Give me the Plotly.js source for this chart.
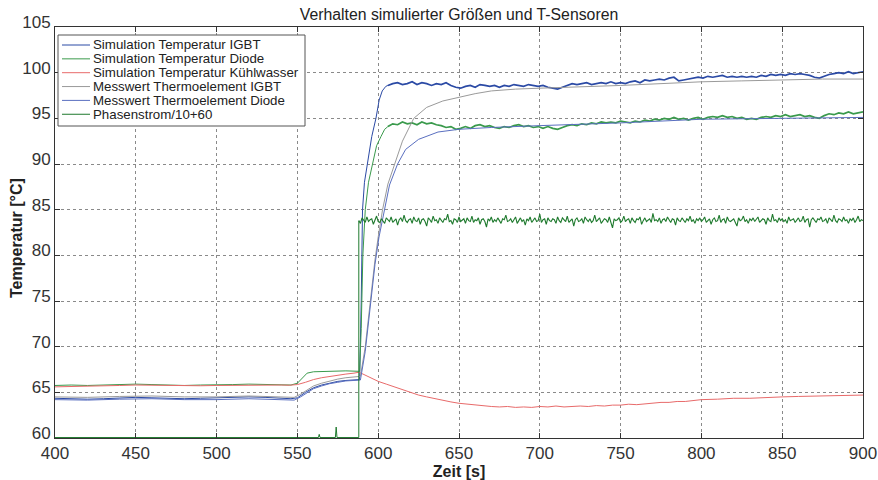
<!DOCTYPE html>
<html><head><meta charset="utf-8">
<script src="https://cdn.plot.ly/plotly-3.0.1.min.js"></script>
<style>html,body{margin:0;padding:0;background:#fff}#chart{width:878px;height:480px}</style>
</head><body><div id="chart"></div>
<script>
// ---------------- DATA ----------------
const seriesNames = [
  'Simulation Temperatur IGBT',
  'Simulation Temperatur Diode',
  'Simulation Temperatur Kühlwasser',
  'Messwert Thermoelement IGBT',
  'Messwert Thermoelement Diode',
  'Phasenstrom/10+60'
];
const chartTitle = 'Verhalten simulierter Größen und T-Sensoren';
const xTitle = 'Zeit [s]';
const yTitle = 'Temperatur [°C]';

// Simulation IGBT: smooth part + noisy plateau (plateau sampled from 606 s every 3 s)
const simIGBT_t = [400,410,420,430,440,450,460,470,480,490,500,510,520,530,540,546,550,555,560,565,570,575,580,585,588.5,589.5,590.3,591.5,593.4,596,598.6,600.6,602.5,604.7,606];
const simIGBT_v = [64.35,64.3,64.25,64.3,64.4,64.45,64.4,64.35,64.3,64.35,64.4,64.45,64.5,64.45,64.35,64.3,64.4,65.0,65.5,65.8,66.0,66.2,66.3,66.4,66.4,75,85,88,90,93,95,97,98,98.5,98.6];
const simIGBT_plateau = [
 98.6,98.8,98.9,98.7,98.8,99.0,98.7,98.9,98.8,98.6,
 98.8,98.7,98.9,98.6,98.4,98.3,98.5,98.6,98.4,98.7,
 98.6,98.5,98.6,98.4,98.6,98.5,98.7,98.6,98.5,98.7,
 98.6,98.5,98.6,98.4,98.3,98.2,98.4,98.6,98.8,98.7,
 98.8,98.9,98.7,98.8,98.9,98.8,99.0,98.8,98.9,98.8,
 99.0,99.1,98.9,99.2,99.1,99.2,99.3,99.2,99.4,99.5,
 99.1,99.2,99.3,99.4,99.5,99.4,99.6,99.5,99.6,99.7,
 99.5,99.6,99.5,99.6,99.5,99.6,99.5,99.7,99.6,99.8,
 99.7,99.8,99.7,99.9,99.8,99.9,99.8,99.7,99.5,99.4,
 99.6,99.8,99.9,100.0,99.9,100.1,99.9,100.0,100.1];

// Simulation Diode
const simDiode_t = [400,410,420,430,440,450,460,470,480,490,500,510,520,530,540,546,550,553,556,560,570,580,588.5,589.5,590.5,592,594,596.5,599,601.7,604,606];
const simDiode_v = [65.75,65.8,65.75,65.8,65.85,65.9,65.85,65.8,65.75,65.8,65.8,65.85,65.9,65.85,65.8,65.8,66.0,66.6,67.1,67.25,67.3,67.35,67.3,72,80,85,88,90,92,93,93.8,94.1];
const simDiode_plateau = [
 94.1,94.4,94.3,94.6,94.4,94.5,94.3,94.6,94.4,94.5,
 94.3,94.2,94.0,94.1,93.8,93.9,94.1,93.9,94.2,94.3,
 94.1,94.2,94.0,93.9,94.1,94.0,94.2,94.3,94.1,94.2,
 94.0,94.1,93.9,94.1,93.9,93.8,94.0,94.2,94.3,94.2,
 94.4,94.3,94.5,94.4,94.6,94.5,94.6,94.5,94.7,94.6,
 94.5,94.7,94.6,94.8,94.7,94.9,94.8,95.0,94.9,95.1,
 94.9,95.0,94.8,95.0,95.1,94.9,95.1,95.2,95.1,95.3,
 95.1,95.2,95.0,95.1,94.9,95.0,94.9,95.1,95.2,95.1,
 95.3,95.2,95.4,95.2,95.3,95.4,95.2,95.3,95.1,95.0,
 95.3,95.5,95.4,95.6,95.5,95.7,95.5,95.6,95.7];

// Simulation Kühlwasser
const coolant_t = [400,410,420,430,440,450,460,470,480,490,500,510,520,530,540,545,550,555,560,565,570,575,580,585,588,590,593,596,600,605,610,615,620,625,630,635,640,645,650,655,660,665,670,675,680,685,690,695,700,705,710,715,720,725,730,735,740,745,750,755,760,765,770,775,780,785,790,795,800,810,820,830,840,850,860,870,880,890,900];
const coolant_v = [65.6,65.62,65.65,65.7,65.75,65.8,65.78,65.72,65.7,65.72,65.75,65.78,65.8,65.82,65.8,65.78,65.85,66.1,66.4,66.6,66.75,66.9,67.0,67.1,67.2,67.05,66.8,66.5,66.2,65.9,65.6,65.3,65.0,64.7,64.5,64.3,64.1,63.95,63.8,63.7,63.6,63.55,63.45,63.4,63.45,63.35,63.4,63.35,63.45,63.4,63.5,63.4,63.45,63.5,63.45,63.55,63.5,63.6,63.6,63.7,63.65,63.75,63.8,63.9,63.9,64.0,64.0,64.1,64.2,64.25,64.35,64.35,64.45,64.5,64.55,64.6,64.65,64.7,64.7];

// Messwert Thermoelement IGBT
const measIGBT_t = [400,420,440,460,480,500,520,540,548,552,556,560,565,570,575,580,585,589,592,595,598,600,602.7,606,610,615,622,630,640,650,660,670,685,700,720,750,775,800,825,850,875,900];
const measIGBT_v = [64.5,64.45,64.55,64.6,64.5,64.5,64.6,64.5,64.45,64.8,65.3,65.7,66.0,66.25,66.45,66.6,66.7,66.75,70,75,79.5,82,85,87.8,90,92.5,95,96.2,96.9,97.3,97.7,98.0,98.2,98.3,98.4,98.6,98.8,99.0,99.1,99.2,99.3,99.3];

// Messwert Thermoelement Diode
const measDiode_t = [400,420,440,460,480,500,520,540,548,552,556,560,565,570,575,580,585,589,592,595,598,600.5,603.7,607,612,617,625,637,650,670,700,750,800,850,900];
const measDiode_v = [64.2,64.15,64.25,64.3,64.2,64.2,64.3,64.2,64.15,64.5,65.0,65.4,65.7,65.95,66.1,66.25,66.3,66.35,69.5,74.5,79,82,85,87.7,90,91.6,92.7,93.5,93.8,94.0,94.2,94.5,94.9,95.0,95.1];

// Phasenstrom/10+60: off part + noisy on part (sampled from 588 s every 1 s)
const phase_t = [400,563,563.5,564,573.5,574,574.5,588,588];
const phase_v = [60.05,60.05,60.4,60.05,60.05,61.2,60.05,60.05,83.8];
const phase_on = [
 83.8,83.5,84.1,83.9,83.6,84.2,83.7,83.9,84.0,83.4,
 83.9,84.3,83.7,83.6,84.0,83.8,83.5,84.1,83.9,83.7,
 84.2,83.6,83.8,84.0,83.3,83.9,84.1,83.7,84.4,83.8,
 83.6,83.9,84.0,83.5,84.2,83.8,83.7,84.1,83.4,83.9,
 84.0,83.7,83.2,84.1,83.9,83.6,84.3,83.8,83.9,83.5,
 84.1,83.8,83.6,84.0,83.9,84.5,83.7,83.8,83.4,84.0,
 83.9,83.6,84.2,83.7,83.9,84.0,83.5,84.1,83.8,83.7,
 84.3,83.6,83.9,83.8,84.1,83.4,83.9,84.0,83.7,83.1,
 84.0,83.8,84.2,83.6,83.9,83.7,84.1,83.8,83.5,84.0,
 83.9,84.4,83.7,83.8,84.0,83.6,83.9,84.2,83.5,83.8,
 84.1,83.7,83.9,83.3,84.0,83.8,84.2,83.6,83.9,84.1,
 83.7,83.8,84.5,83.6,83.9,84.0,83.4,84.1,83.8,83.7,
 84.0,83.9,83.5,84.2,83.8,83.6,84.1,83.9,83.7,84.3,
 83.6,83.8,84.0,83.2,83.9,84.1,83.7,83.8,84.0,83.5,
 84.2,83.9,83.7,84.0,83.6,83.8,84.4,83.7,83.9,84.1,
 83.5,83.8,84.0,83.9,83.6,84.2,83.7,83.0,84.0,83.8,
 83.9,84.1,83.6,83.8,84.3,83.7,83.9,84.0,83.5,84.1,
 83.8,83.6,84.0,83.9,84.2,83.4,83.8,84.1,83.7,83.9,
 84.0,83.6,84.6,83.8,83.9,83.7,84.1,83.5,83.9,84.0,
 83.7,84.2,83.8,83.6,84.0,83.9,83.3,84.1,83.8,83.7,
 84.1,83.9,83.6,84.0,83.8,84.3,83.7,83.9,83.5,84.0,
 83.8,84.1,83.7,83.9,84.2,83.6,83.8,84.0,83.4,83.9,
 84.1,83.7,83.8,84.4,83.6,83.9,84.0,83.5,84.2,83.8,
 83.7,83.9,84.0,83.6,83.2,84.1,83.8,83.9,84.3,83.7,
 83.9,83.5,84.0,83.8,84.1,83.7,83.9,84.2,83.6,83.8,
 84.0,83.9,83.4,84.1,83.8,83.7,84.5,83.8,83.9,83.6,
 84.1,83.8,84.0,83.7,83.9,83.5,84.2,83.8,83.9,84.0,
 83.6,83.9,84.1,83.7,83.8,84.3,83.6,83.9,84.0,83.1,
 83.9,84.1,83.8,83.6,84.0,83.9,84.2,83.7,83.8,84.0,
 83.5,84.1,83.9,83.7,84.4,83.8,83.6,84.0,83.9,83.7,
 84.2,83.8,83.9,83.5,84.0,83.8,84.1,83.6,83.9,84.3,
 83.7,83.9,83.8];

const xTicks = [400,450,500,550,600,650,700,750,800,850,900];
const yTicks = [60,65,70,75,80,85,90,95,100,105];

// ---------------- STYLE / LAYOUT ----------------
const colors = ['#2b4aa5','#3a9a4c','#e86a6a','#9a9a9a','#5a6fc0','#1f7a2e'];
const FONT = 'Liberation Sans, Arial, Helvetica, sans-serif';
const W = 878, H = 480, M = {l:55, r:15, t:27, b:42};
const pw = W - M.l - M.r, ph = H - M.t - M.b;
const pxX = px => (px - M.l) / pw;
const pxY = py => (H - M.b - py) / ph;

function ln(x, y, c, w){ return {type:'scatter', mode:'lines', x:x, y:y, line:{color:c, width:w||1}, hoverinfo:'skip', showlegend:false}; }
function lnReg(y, x0, dx, c, w){ return {type:'scatter', mode:'lines', x0:x0, dx:dx, y:y, line:{color:c, width:w||1}, hoverinfo:'skip', showlegend:false}; }

const traces = [
  ln(simIGBT_t, simIGBT_v, colors[0]),
  lnReg(simIGBT_plateau, 606, 3, colors[0], 1.7),
  ln(simDiode_t, simDiode_v, colors[1]),
  lnReg(simDiode_plateau, 606, 3, colors[1], 1.7),
  ln(coolant_t, coolant_v, colors[2]),
  ln(measIGBT_t, measIGBT_v, colors[3]),
  ln(measDiode_t, measDiode_v, colors[4]),
  ln(phase_t, phase_v, colors[5]),
  lnReg(phase_on, 588, 1, colors[5], 1.1)
];

// custom compact legend (matplotlib-like)
const legX0 = 58, legX1 = 305, legY0 = 35, legY1 = 126;
const itemY0 = 45, itemDy = 13.85;
const shapes = [{type:'rect', xref:'paper', yref:'paper', x0:pxX(legX0), x1:pxX(legX1), y0:pxY(legY1), y1:pxY(legY0), line:{color:'#555', width:1}, fillcolor:'#fff', layer:'above'}];
const annotations = [];
seriesNames.forEach((name, i) => {
  const yy = pxY(itemY0 + i*itemDy);
  shapes.push({type:'line', xref:'paper', yref:'paper', x0:pxX(62), x1:pxX(90), y0:yy, y1:yy, line:{color:colors[i], width:1}, layer:'above'});
  annotations.push({xref:'paper', yref:'paper', x:pxX(91), y:yy, xanchor:'left', yanchor:'middle', showarrow:false, text:name, font:{family:FONT, size:13.3, color:'#222'}});
});
// y-axis title placed like the reference (between the frame edge and the tick labels)
annotations.push({xref:'paper', yref:'paper', x:pxX(17), y:pxY(238), xanchor:'center', yanchor:'middle', textangle:-90, showarrow:false,
  text:'<b>'+yTitle+'</b>', font:{family:FONT, size:16, color:'#222'}});

const axisCommon = {
  showgrid:true, gridcolor:'#8a8a8a', griddash:'dot', gridwidth:1,
  ticks:'inside', ticklen:5, tickcolor:'#333', tickwidth:1,
  mirror:'allticks', showline:true, linecolor:'#333', linewidth:1,
  zeroline:false, ticklabeloverflow:'allow',
  tickfont:{family:FONT, size:17, color:'#333'}
};

const layout = {
  width:W, height:H, margin:M, paper_bgcolor:'#fff', plot_bgcolor:'#fff',
  showlegend:false,
  title:{text:chartTitle, font:{family:FONT, size:15.8, color:'#222'}, x:0.5, xref:'paper', xanchor:'center', y:1-14/H, yref:'container', yanchor:'middle'},
  xaxis:Object.assign({}, axisCommon, {range:[400,900], tickvals:xTicks, ticktext:xTicks.map(String),
     title:{text:'<b>'+xTitle+'</b>', font:{family:FONT, size:16, color:'#222'}, standoff:1}}),
  yaxis:Object.assign({}, axisCommon, {range:[60,105], tickvals:yTicks, ticktext:yTicks.map(String), ticklabelshift:-5}),
  shapes:shapes, annotations:annotations
};

Plotly.newPlot('chart', traces, layout, {staticPlot:true, displayModeBar:false});
</script></body></html>
